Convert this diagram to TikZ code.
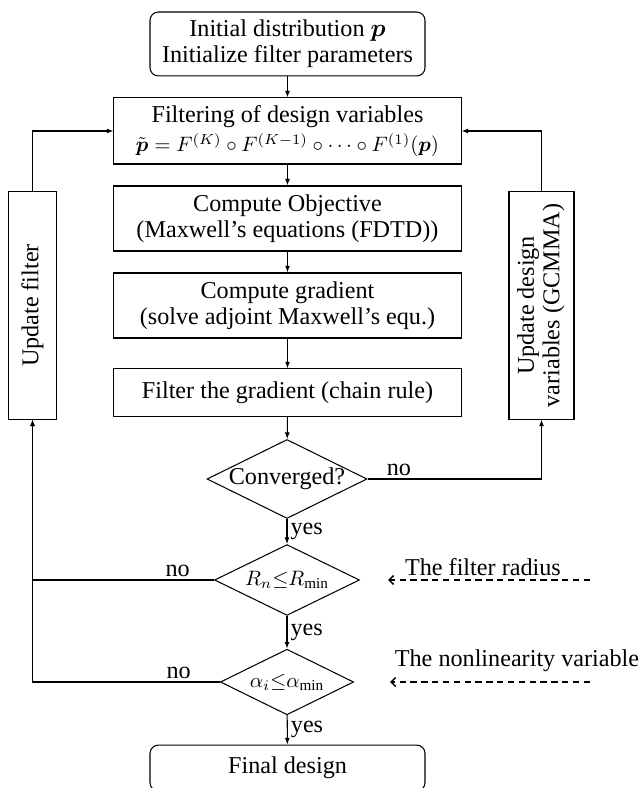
\documentclass[tikz,border=0pt]{standalone}
\usepackage{amsmath}
\usepackage{fontspec}
\setmainfont{Liberation Serif}
\usetikzlibrary{shapes.geometric,arrows.meta}
\newcommand{\zerobox}[1]{\smash{\makebox[0pt]{#1}}}
\begin{document}
\begin{tikzpicture}[x=0.48pt,y=-0.48pt,
  font=\fontsize{11.6pt}{12.3pt}\selectfont,
  box/.style={draw,line width=0.5pt,align=center,inner sep=0pt,minimum width=166.6pt},
  rbox/.style={draw,line width=0.5pt,align=center,inner sep=0pt,rounded corners=4pt,minimum width=132pt},
  vbox/.style={draw,line width=0.5pt,align=center,inner sep=0pt,minimum height=109pt},
  dec/.style={draw,diamond,line width=0.5pt,inner sep=0pt},
  arr/.style={-{Latex[length=3.2pt,width=2.4pt]},line width=0.5pt},
  dasharr/.style={-{Straight Barb[length=2.2pt,width=4.2pt]},line width=0.7pt,dash pattern=on 3pt off 2.2pt},
  lbl/.style={inner sep=1.5pt}]
\useasboundingbox (0,0) rectangle (643,788);
\clip (0,0) rectangle (643,788);

\node[rbox,minimum height=30.7pt] (init) at (287.5,44) {Initial distribution $\boldsymbol{p}$\\Initialize filter parameters};
\node[box,minimum height=31.7pt] (filt) at (287.5,131) {Filtering of design variables\\[2pt]{\fontsize{10.4pt}{12pt}\selectfont$\tilde{\boldsymbol{p}}=F^{(K)}\circ F^{(K-1)}\circ\cdots\circ F^{(1)}(\boldsymbol{p})$}};
\node[box,minimum height=31.2pt] (obj) at (287.5,218.5) {Compute Objective\\(Maxwell's equations (FDTD))};
\node[box,minimum height=31.2pt] (grad) at (287.5,305.5) {Compute gradient\\(solve adjoint Maxwell's equ.)};
\node[box,minimum height=22.6pt] (fgrad) at (287.5,392.5) {Filter the gradient (chain rule)};

\node[vbox,minimum width=22.6pt] (uf) at (32.5,305.5) {\rotatebox{90}{Update filter}};
\node[vbox,minimum width=31.2pt] (ud) at (541.5,305.5) {\rotatebox{90}{\begin{tabular}{@{}c@{}}Update design\\variables (GCMMA)\end{tabular}}};

\node[dec,minimum width=76.8pt,minimum height=37.9pt] (conv) at (287,479) {\zerobox{\raisebox{-0.5ex}{Converged?}}};
\node[dec,minimum width=69.6pt,minimum height=34pt] (rad) at (287,580) {\zerobox{\raisebox{-0.5ex}{\fontsize{10.4pt}{12pt}\selectfont$R_n{\le}R_{\mathrm{min}}$}}};
\node[dec,minimum width=64pt,minimum height=31.5pt] (alp) at (287,682) {\zerobox{\raisebox{-0.5ex}{\fontsize{10.4pt}{12pt}\selectfont$\alpha_i{\le}\alpha_{\mathrm{min}}$}}};

\node[rbox,minimum height=22pt] (fin) at (287.5,768) {Final design};

\draw[arr] (init) -- (filt);
\draw[arr] (filt) -- (obj);
\draw[arr] (obj) -- (grad);
\draw[arr] (grad) -- (fgrad);
\draw[arr] (fgrad) -- (conv);
\draw[arr] (conv) -- node[right,lbl] {yes} (rad);
\draw[arr] (rad) -- node[right,lbl] {yes} (alp);
\draw[arr] (alp) -- node[right,lbl] {yes} (fin);

\draw[arr] (uf.north) |- (filt.west);
\draw[arr] (ud.north) |- (filt.east);
\draw[arr] (conv.east) -| node[above,pos=0.09,lbl] {no} (ud.south);
\draw[arr] (rad.west) -| node[above,pos=0.1,lbl] {no} (uf.south);
\draw[arr] (alp.west) -| node[above,pos=0.11,lbl] {no} (uf.south);

\coordinate (rs) at (590,580);
\coordinate (re) at (388,580);
\draw[dasharr] (rs) -- node[above,lbl,pos=0.53] {The filter radius} (re);
\coordinate (as) at (590,682);
\coordinate (ae) at (390,682);
\draw[dasharr] (as) -- (ae);
\node[inner sep=0pt] (nlv) at (517,661) {The nonlinearity variable};
\end{tikzpicture}
\end{document}
